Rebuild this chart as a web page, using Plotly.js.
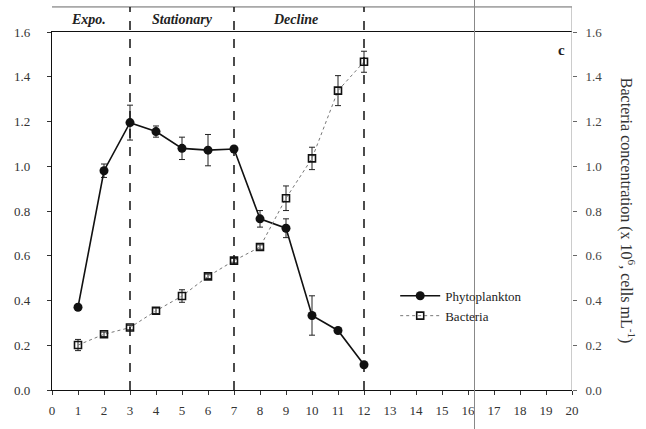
<!DOCTYPE html>
<html>
<head>
<meta charset="utf-8">
<script src="https://cdn.plot.ly/plotly-3.0.1.min.js"></script>
<style>html,body{margin:0;padding:0;background:#fff;}</style>
</head>
<body>
<div id="chart" style="width:646px;height:429px;"></div>
<script>
// Days of culture
const days = [1, 2, 3, 4, 5, 6, 7, 8, 9, 10, 11, 12];
// Phytoplankton (left axis)
const phyto = [0.37, 0.98, 1.195, 1.155, 1.08, 1.072, 1.077, 0.765, 0.723, 0.333, 0.266, 0.113];
const phytoErr = [0.0, 0.03, 0.078, 0.025, 0.05, 0.07, 0.0, 0.037, 0.042, 0.088, 0.0, 0.0];
// Bacteria (right axis)
const bact = [0.201, 0.249, 0.279, 0.354, 0.42, 0.508, 0.578, 0.639, 0.857, 1.035, 1.338, 1.467];
const bactErr = [0.025, 0.01, 0.01, 0.012, 0.028, 0.01, 0.01, 0.01, 0.055, 0.05, 0.067, 0.047];
// Phase boundaries and labels
const phaseBounds = [3, 7, 12];
const phaseNames = ['Expo.', 'Stationary', 'Decline'];
const phaseCenters = [1.4, 5.0, 9.35];
const xTicks = [0,1,2,3,4,5,6,7,8,9,10,11,12,13,14,15,16,17,18,19,20];
const yTicks = [0.0, 0.2, 0.4, 0.6, 0.8, 1.0, 1.2, 1.4, 1.6];

const serif = 'Liberation Serif, Times New Roman, serif';

const traces = [
  {
    x: days, y: bact, name: 'Bacteria', yaxis: 'y2',
    mode: 'lines+markers', type: 'scatter',
    line: {color: '#777', width: 1, dash: 'dot'},
    marker: {symbol: 'square-open', size: 7, color: '#111', line: {width: 1.6, color: '#111'}},
    error_y: {type: 'data', array: bactErr, visible: true, color: '#222', thickness: 1, width: 3}
  },
  {
    x: days, y: phyto, name: 'Phytoplankton', yaxis: 'y',
    mode: 'lines+markers', type: 'scatter',
    line: {color: '#111', width: 1.6},
    marker: {symbol: 'circle', size: 9, color: '#111'},
    error_y: {type: 'data', array: phytoErr, visible: true, color: '#222', thickness: 1, width: 3}
  }
];

const shapes = [];
// header band
shapes.push({type: 'line', xref: 'x', yref: 'paper', x0: -0.15, x1: 20, y0: 1.07, y1: 1.07, line: {color: '#666', width: 1}});
shapes.push({type: 'line', xref: 'x', yref: 'paper', x0: 20, x1: 20, y0: 0, y1: 1.07, line: {color: '#999', width: 1}});
phaseBounds.forEach(b => {
  shapes.push({type: 'line', xref: 'x', yref: 'paper', x0: b, x1: b, y0: 0, y1: 1.07,
    line: {color: '#111', width: 1.5, dash: 'dash'}});
});
// scan fold line
shapes.push({type: 'line', xref: 'x', yref: 'paper', x0: 16.25, x1: 16.25, y0: -0.12, y1: 1.09,
  line: {color: '#888', width: 1}});

const annotations = phaseNames.map((n, i) => ({
  x: phaseCenters[i], y: 1.036, xref: 'x', yref: 'paper', xanchor: 'center', yanchor: 'middle',
  text: '<b><i>' + n + '</i></b>',
  showarrow: false, font: {family: serif, size: 14, color: '#222'}
}));
annotations.push({x: 19.6, y: 0.95, xref: 'x', yref: 'paper', xanchor: 'center', yanchor: 'middle',
  text: '<b>c</b>', showarrow: false, font: {family: serif, size: 15, color: '#222'}});
annotations.push({x: 1.108, y: 0.5, xref: 'paper', yref: 'paper', xanchor: 'center', yanchor: 'middle', textangle: 90,
  text: 'Bacteria concentration (x 10<sup>6</sup>, cells mL<sup>-1</sup>)', showarrow: false,
  font: {family: serif, size: 16, color: '#333'}});

const layout = {
  width: 646, height: 429,
  margin: {l: 52, r: 74, t: 32, b: 39},
  paper_bgcolor: '#fff', plot_bgcolor: '#fff',
  showlegend: true,
  legend: {x: 0.66, y: 0.305, xanchor: 'left', yanchor: 'top', bgcolor: 'rgba(0,0,0,0)',
    font: {family: serif, size: 13, color: '#222'}, traceorder: 'reversed', itemwidth: 40},
  xaxis: {range: [0, 20], tickvals: xTicks, ticktext: xTicks.map(String), showgrid: false, zeroline: false,
    showline: true, linecolor: '#111', linewidth: 1.2, mirror: true, ticks: 'outside', ticklen: 4, tickcolor: '#333',
    ticklabelstandoff: 4,
    tickfont: {family: serif, size: 13, color: '#333'}},
  yaxis: {range: [0, 1.6], tickvals: yTicks, ticktext: yTicks.map(v => v.toFixed(1)), showgrid: false, zeroline: false,
    showline: true, linecolor: '#111', linewidth: 1.2, ticks: 'outside', ticklen: 4, tickcolor: '#333',
    ticklabelstandoff: 14,
    tickfont: {family: serif, size: 13, color: '#333'}},
  yaxis2: {range: [0, 1.6], overlaying: 'y', side: 'right', tickvals: yTicks, ticktext: yTicks.map(v => v.toFixed(1)),
    showgrid: false, zeroline: false, showline: false, ticks: 'outside', ticklen: 4, tickcolor: '#666',
    ticklabelstandoff: 6,
    tickfont: {family: serif, size: 13, color: '#444'}},
  shapes: shapes,
  annotations: annotations
};

Plotly.newPlot('chart', traces, layout, {displayModeBar: false, staticPlot: true});
</script>
</body>
</html>
